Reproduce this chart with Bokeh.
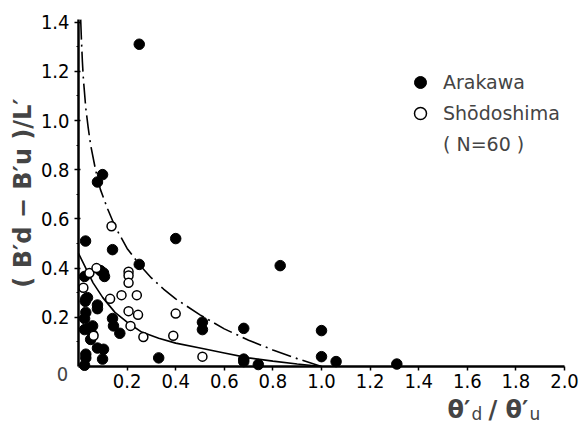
from bokeh.plotting import figure
from bokeh.models import FixedTicker, Label, Legend, LegendItem, Range1d, PrintfTickFormatter
from bokeh.embed import file_html
from bokeh.resources import INLINE

# Arakawa (filled)
ara_x = [0.078, 0.099, 0.25, 0.029, 0.14, 0.40, 0.83, 0.25, 0.025, 0.09, 0.103, 0.107,
         0.03, 0.037, 0.028, 0.078, 0.078, 0.03, 0.025, 0.025, 0.04, 0.058, 0.058, 0.05,
         0.14, 0.144, 0.17, 0.078, 0.103, 0.099, 0.03, 0.03, 0.025, 0.33, 0.51, 0.51,
         0.68, 0.68, 0.68, 0.74, 1.0, 1.0, 1.06, 1.31]
ara_y = [0.75, 0.78, 1.31, 0.51, 0.475, 0.52, 0.41, 0.415, 0.366, 0.39, 0.38, 0.366,
         0.275, 0.28, 0.265, 0.25, 0.235, 0.22, 0.195, 0.15, 0.155, 0.165, 0.13, 0.11,
         0.195, 0.165, 0.135, 0.075, 0.07, 0.03, 0.05, 0.035, 0.005, 0.035, 0.18, 0.15,
         0.155, 0.03, 0.02, 0.008, 0.146, 0.04, 0.02, 0.01]

# Shodoshima (open)
sho_x = [0.136, 0.045, 0.074, 0.02, 0.206, 0.206, 0.206, 0.13, 0.177, 0.24, 0.206,
         0.245, 0.40, 0.214, 0.062, 0.267, 0.39, 0.51]
sho_y = [0.57, 0.38, 0.40, 0.32, 0.385, 0.37, 0.34, 0.275, 0.29, 0.29, 0.225,
         0.21, 0.215, 0.165, 0.125, 0.12, 0.125, 0.04]

# dash-dot envelope curve
env_x = [0.009, 0.012, 0.016, 0.02, 0.03, 0.04, 0.05, 0.07, 0.09, 0.12, 0.15, 0.2, 0.25,
         0.3, 0.35, 0.4, 0.5, 0.6, 0.7, 0.8, 0.9, 1.0]
env_y = [1.41, 1.33, 1.24, 1.17, 1.05, 0.97, 0.90, 0.80, 0.72, 0.64, 0.57, 0.48, 0.415,
         0.36, 0.315, 0.275, 0.21, 0.153, 0.107, 0.067, 0.032, 0.0]

# solid mean curve
mean_x = [0, 0.03, 0.06, 0.1, 0.15, 0.2, 0.26, 0.33, 0.4, 0.5, 0.6, 0.7, 0.8, 0.9, 1.0]
mean_y = [0.46, 0.40, 0.34, 0.28, 0.22, 0.18, 0.14, 0.115, 0.095, 0.075, 0.055, 0.035,
          0.022, 0.01, 0.0]

x_ticks = [0.2, 0.4, 0.6, 0.8, 1.0, 1.2, 1.4, 1.6, 1.8, 2.0]
y_ticks = [0.2, 0.4, 0.6, 0.8, 1.0, 1.2, 1.4]
y_minor = [0.1, 0.3, 0.5, 0.7, 0.9, 1.1, 1.3]

NARROW = "'Liberation Sans Narrow', 'DejaVu Sans Condensed', sans-serif"

W, H = 579, 427
X0, XS = 78, 243.0    # pixel of x=0, pixels per unit
Y0, YS = 366, 246.0   # pixel of y=0, pixels per unit

p = figure(width=W, height=H, output_backend="svg", toolbar_location=None,
           x_range=Range1d(-X0 / XS, (W - X0) / XS),
           y_range=Range1d(-(H - Y0) / YS, Y0 / YS),
           min_border_left=0, min_border_right=0, min_border_top=0, min_border_bottom=0)
p.outline_line_color = None
p.xgrid.visible = False
p.ygrid.visible = False
p.background_fill_color = "white"
p.border_fill_color = "white"

for ax in (p.xaxis[0], p.yaxis[0]):
    ax.fixed_location = 0
    ax.axis_line_width = 2.5
    ax.axis_line_color = "black"
    ax.major_tick_line_color = "black"
    ax.minor_tick_line_color = "black"
    ax.major_tick_line_width = 1.5
    ax.major_label_text_font = NARROW
    ax.major_label_text_font_size = "20px"
    ax.major_label_text_color = "black"
    ax.formatter = PrintfTickFormatter(format="%.1f")

p.xaxis[0].bounds = (0, 2.0)
p.xaxis[0].ticker = FixedTicker(ticks=x_ticks)
p.xaxis[0].major_tick_out = 4
p.xaxis[0].major_tick_in = 0
p.xaxis[0].major_label_standoff = 3
p.xaxis[0].minor_tick_out = 0
p.xaxis[0].minor_tick_in = 0

p.yaxis[0].bounds = (0, 1.41)
p.yaxis[0].ticker = FixedTicker(ticks=y_ticks, minor_ticks=y_minor)
p.yaxis[0].major_tick_out = 4
p.yaxis[0].major_tick_in = 2
p.yaxis[0].minor_tick_out = 2
p.yaxis[0].minor_tick_in = 0
p.yaxis[0].major_label_standoff = 5

p.yaxis[0].axis_label = "( B′d − B′u )/L′"
p.yaxis[0].axis_label_text_font = "DejaVu Sans"
p.yaxis[0].axis_label_text_font_style = "bold"
p.yaxis[0].axis_label_text_font_size = "24px"
p.yaxis[0].axis_label_standoff = 1

# curves
p.line(env_x, env_y, line_color="black", line_width=1.6, line_dash="20 5 2 5")
p.line(mean_x, mean_y, line_color="black", line_width=1.6)

r_ara = p.scatter(ara_x, ara_y, size=10.5, marker="circle", fill_color="black",
                  line_color="black")
r_sho = p.scatter(sho_x, sho_y, size=9, marker="circle", fill_color="white",
                  line_color="black", line_width=1.5)
r_dummy = p.scatter([0], [0], size=0, fill_alpha=0, line_alpha=0)

legend = Legend(items=[LegendItem(label="Arakawa", renderers=[r_ara]),
                       LegendItem(label="Shōdoshima", renderers=[r_sho]),
                       LegendItem(label="( N=60 )", renderers=[r_dummy])],
                location=(405, 268), border_line_color=None, background_fill_alpha=0,
                padding=0, margin=0, spacing=1, glyph_width=30, glyph_height=30,
                label_height=30, label_standoff=8,
                label_text_font="DejaVu Sans", label_text_font_size="19px")
p.add_layout(legend)

# corner "0"
p.add_layout(Label(x=0, y=0, text="0", x_offset=-16, y_offset=-7, text_align="center",
                   text_baseline="middle", text_font=NARROW, text_font_size="20px"))

# x-axis label with subscripts: (text, left pixel, vertical shift, size, bold)
pieces = [("θ′", 447, 0, "24px", True), ("d", 471, -4, "17px", False),
          ("/", 488, 0, "24px", True), ("θ′", 505, 0, "24px", True),
          ("u", 529, -4, "17px", False)]
for txt, px, dy, fs, bold in pieces:
    p.add_layout(Label(x=0, y=0, text=txt, x_offset=px - X0, y_offset=-43 + dy,
                       text_align="left", text_baseline="middle", text_font="DejaVu Sans",
                       text_font_style="bold" if bold else "normal",
                       text_font_size=fs))

open("out.html", "w").write(file_html(p, INLINE))
